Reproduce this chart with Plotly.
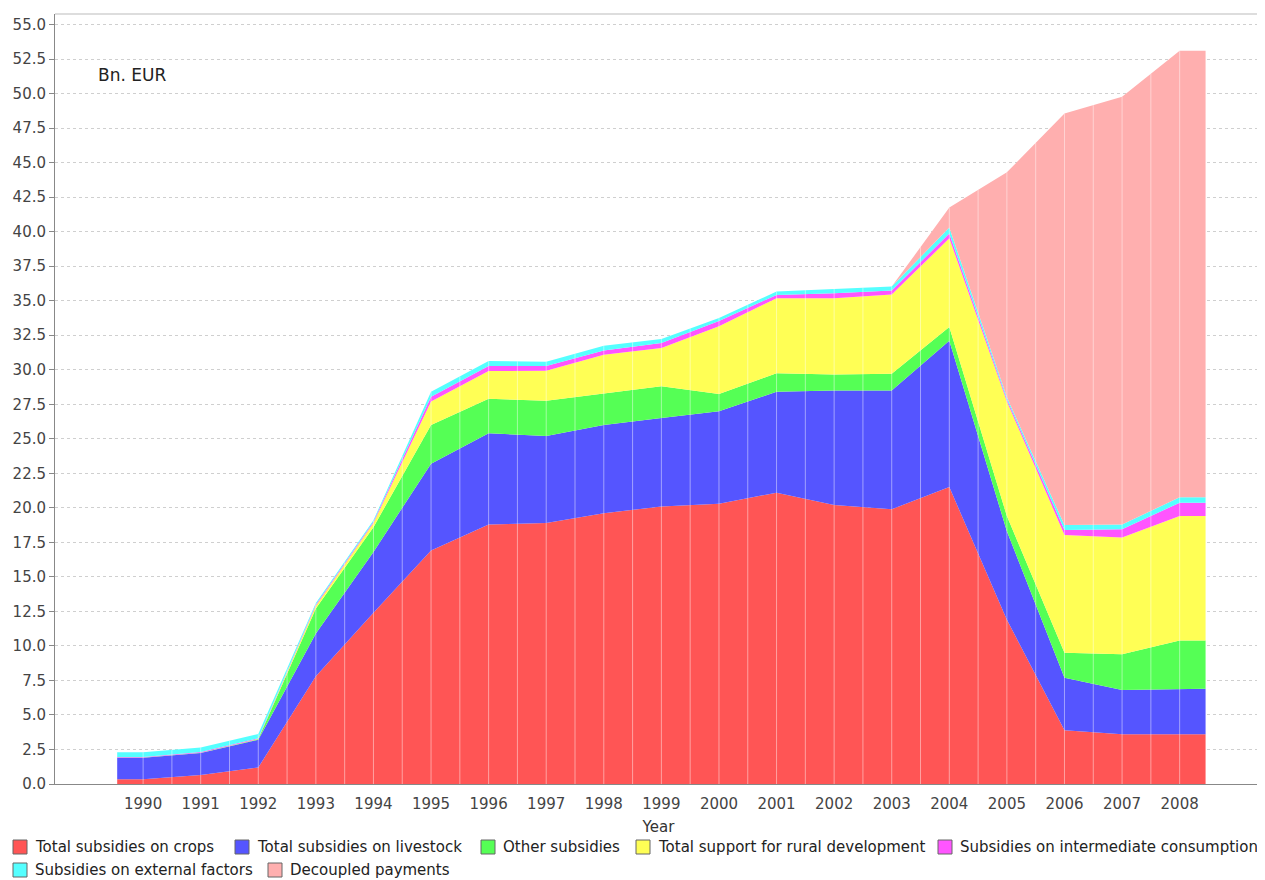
import plotly.graph_objects as go

years = [str(y) for y in range(1990, 2009)]

crops = [0.35, 0.65, 1.2, 7.8, 12.4, 16.9, 18.8, 18.9, 19.6, 20.1, 20.3, 21.1, 20.2, 19.9, 21.5, 11.9, 3.9, 3.6, 3.6]
livestock = [1.55, 1.6, 2.0, 3.1, 4.4, 6.3, 6.6, 6.3, 6.4, 6.4, 6.7, 7.3, 8.3, 8.6, 10.6, 6.4, 3.8, 3.2, 3.3]
other = [0.02, 0.02, 0.05, 1.8, 1.8, 2.8, 2.5, 2.55, 2.3, 2.3, 1.25, 1.35, 1.15, 1.2, 1.0, 1.1, 1.8, 2.6, 3.5]
rural = [0.0, 0.0, 0.02, 0.2, 0.3, 1.7, 2.0, 2.18, 2.78, 2.78, 4.9, 5.43, 5.53, 5.74, 6.42, 8.3, 8.53, 8.45, 9.0]
intermediate = [0.03, 0.05, 0.05, 0.1, 0.1, 0.35, 0.37, 0.34, 0.32, 0.35, 0.37, 0.24, 0.35, 0.29, 0.34, 0.15, 0.36, 0.6, 0.97]
external = [0.35, 0.33, 0.3, 0.1, 0.1, 0.35, 0.36, 0.31, 0.34, 0.3, 0.23, 0.24, 0.33, 0.29, 0.44, 0.15, 0.36, 0.35, 0.39]
decoupled = [0, 0, 0, 0, 0, 0, 0, 0, 0, 0, 0, 0, 0, 0, 1.44, 16.3, 29.8, 30.97, 32.34]

series_names = [
    "Total subsidies on crops",
    "Total subsidies on livestock",
    "Other subsidies",
    "Total support for rural development",
    "Subsidies on intermediate consumption",
    "Subsidies on external factors",
    "Decoupled payments",
]
series_values = [crops, livestock, other, rural, intermediate, external, decoupled]
colors = ["#FF5555", "#5555FF", "#55FF55", "#FFFF55", "#FF55FF", "#55FFFF", "#FFAFAF"]

FONT = "DejaVu Sans"
OFF = 8  # page body margin offset
W, H = 1265 - OFF, 880 - OFF
# plot area in reference (page) pixels
PL, PR, PT, PB = 55, 1262, 14, 784
ML, MT = PL - OFF, PT - OFF
MR = W - (PR - OFF)
MB = H - (PB - OFF)
PW = PR - PL
PH = PB - PT

def pxx(px):
    return (px - PL) / PW

def pxy(py):
    return (PB - py) / PH

n = len(years)
edge = 0.45
xs = [-edge] + list(range(n)) + [n - 1 + edge]

fig = go.Figure()
for name, vals, col in zip(series_names, series_values, colors):
    ys = [vals[0]] + list(vals) + [vals[-1]]
    fig.add_trace(go.Scatter(
        x=xs, y=ys, name=name, mode="lines", stackgroup="one",
        line=dict(width=0, color=col), fillcolor=col, showlegend=False,
        hoverinfo="skip",
    ))

# polygon seams (light vertical lines inside the area, like the original renderer)
totals = [sum(v[i] for v in series_values) for i in range(n)]
shapes = []
seam_pos = []
for i in range(n):
    seam_pos.append((i, totals[i]))
    if i < n - 1:
        seam_pos.append((i + 0.5, (totals[i] + totals[i + 1]) / 2))
for xp, top in seam_pos:
    shapes.append(dict(type="line", xref="x", yref="y", x0=xp, x1=xp, y0=0, y1=top,
                       line=dict(color="rgba(255,255,255,0.45)", width=1), layer="above"))

# top border of plot area
shapes.append(dict(type="line", xref="paper", yref="paper", x0=0, x1=1, y0=1, y1=1,
                   line=dict(color="#bbbbbb", width=1)))

annotations = [dict(text="Bn. EUR", x=pxx(96), y=pxy(75), xref="paper", yref="paper",
                    xanchor="left", yanchor="middle", showarrow=False,
                    font=dict(family=FONT, size=17, color="#222222"))]

# custom legend (two rows like the original)
legend_layout = [
    (13, 847), (235, 847), (481, 847), (636, 847), (938, 847),
    (13, 870), (268, 870),
]
for (lx, ly), name, col in zip(legend_layout, series_names, colors):
    shapes.append(dict(type="rect", xref="paper", yref="paper",
                       x0=pxx(lx), x1=pxx(lx + 14), y0=pxy(ly + 7), y1=pxy(ly - 7),
                       fillcolor=col, line=dict(color="#666666", width=1)))
    annotations.append(dict(text=name, x=pxx(lx + 20), y=pxy(ly), xref="paper", yref="paper",
                            xanchor="left", yanchor="middle", showarrow=False,
                            font=dict(family=FONT, size=15, color="#222222")))

fig.update_layout(
    width=W, height=H,
    margin=dict(l=ML, r=MR, t=MT, b=MB, pad=0),
    paper_bgcolor="white", plot_bgcolor="white",
    font=dict(family=FONT, size=15, color="#444444"),
    showlegend=False,
    shapes=shapes,
    annotations=annotations,
    xaxis=dict(
        range=[-1.53, n - 1 + 1.43],
        tickmode="array", tickvals=list(range(n)), ticktext=years,
        showgrid=False, zeroline=False,
        showline=True, linecolor="#888888", linewidth=1,
        ticks="outside", ticklen=6, tickcolor="rgba(0,0,0,0)",
        tickfont=dict(family=FONT, size=15, color="#444444"),
        title=dict(text="Year", font=dict(family=FONT, size=15, color="#333333"), standoff=9),
    ),
    yaxis=dict(
        range=[0, 55.76],
        tickmode="linear", tick0=0, dtick=2.5, tickformat=".1f",
        showgrid=True, gridcolor="#cfcfcf", griddash="dot", gridwidth=1,
        zeroline=False,
        showline=True, linecolor="#888888", linewidth=1,
        ticks="outside", ticklen=5, tickcolor="#888888",
        tickfont=dict(family=FONT, size=15, color="#444444"),
    ),
)

fig.write_html("out.html")
